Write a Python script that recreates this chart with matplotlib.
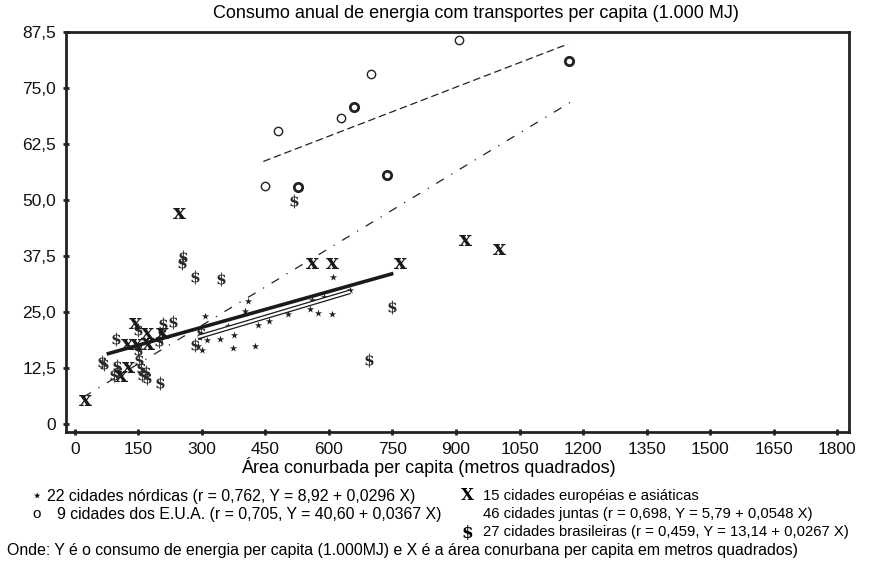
import matplotlib.pyplot as plt

plt.rcParams["font.family"] = ["Liberation Sans", "DejaVu Sans"]
plt.rcParams["mathtext.fontset"] = "dejavuserif"

# nordic cities (stars)
nord_x = [609, 409, 402, 307, 561, 588, 650, 362, 433, 459, 504, 555, 575, 608,
          376, 343, 373, 425, 299, 311, 299, 290]
nord_y = [32.7, 27.4, 25.3, 24.1, 27.7, 28.3, 29.9, 21.9, 22.1, 23.0, 24.6, 25.6,
          24.8, 24.6, 19.9, 18.9, 17.0, 17.3, 16.5, 18.8, 19.9, 17.5]

# US cities (circles), some drawn bolder
usa_x = [908, 1166, 699, 658, 628, 479, 450, 527, 738]
usa_y = [85.6, 81.0, 78.1, 70.7, 68.2, 65.4, 53.1, 52.9, 55.6]
usa_bold = [False, True, False, True, False, False, False, True, True]

# european and asian cities (x)
eur_x = [25, 246, 561, 606, 768, 921, 1002, 142, 171, 205, 122, 144, 173, 126, 110]
eur_y = [5.4, 47.0, 35.9, 35.9, 36.0, 41.1, 39.0, 22.5, 20.2, 20.2, 17.9, 17.9,
         17.9, 12.7, 10.6]

# brazilian cities ($)
bra_x = [256, 252, 283, 344, 232, 207, 96, 199, 150, 152, 155, 158, 167, 65, 68,
         100, 101, 201, 283, 298, 517, 748, 695, 148, 205, 92, 170]
bra_y = [37.2, 35.9, 32.9, 32.3, 22.7, 22.3, 19.0, 18.5, 16.5, 14.3, 12.4, 10.9,
         11.5, 13.9, 13.3, 12.9, 11.5, 9.1, 17.6, 20.4, 49.8, 26.0, 14.3, 21.0,
         20.0, 11.0, 10.3]

# regression line end points as drawn
all_line_x = [20, 1170]
all_line_y = [6.0, 71.8]
usa_line_x = [445, 1164]
usa_line_y = [58.6, 84.8]
eur_line_x = [75, 752]
eur_line_y = [15.6, 33.6]
nord_line_x = [291, 650]
nord_line_y = [19.4, 29.5]

xticks = list(range(0, 1801, 150))
yticks = [0, 12.5, 25.0, 37.5, 50.0, 62.5, 75.0, 87.5]
ytick_labels = ["0", "12,5", "25,0", "37,5", "50,0", "62,5", "75,0", "87,5"]

fig = plt.figure(figsize=(8.72, 5.65), dpi=100)
ax = fig.add_axes([0.0757, 0.2354, 0.8979, 0.708])

ax.plot(all_line_x, all_line_y, color="#222222", lw=0.9, dashes=(7, 7, 1, 7))
ax.plot(usa_line_x, usa_line_y, color="#222222", lw=0.9, dashes=(6, 3))
ax.plot(eur_line_x, eur_line_y, color="#1a1a1a", lw=2.6, solid_capstyle="butt")
ax.plot(nord_line_x, nord_line_y, color="#1a1a1a", lw=3.4, solid_capstyle="butt")
ax.plot(nord_line_x, nord_line_y, color="white", lw=1.6, solid_capstyle="butt")

ax.scatter(nord_x, nord_y, marker="*", s=30, color="#222222", linewidths=0)
for x, y, b in zip(usa_x, usa_y, usa_bold):
    ax.scatter(x, y, marker="o", s=36, facecolors="white", edgecolors="#222222",
               linewidths=2.0 if b else 1.0)
ax.scatter(bra_x, bra_y, marker=r"$\mathbf{\$}$", s=100, color="#2a2a2a", linewidths=0)
ax.scatter(eur_x, eur_y, marker=r"$\mathbf{x}$", s=85, color="#1a1a1a", linewidths=0)
ax.scatter([295], [19.2], marker="s", s=10, color="#3030a0", linewidths=0)

ax.set_xlim(-21, 1828)
ax.set_ylim(-1.8, 87.5)
ax.set_xticks(xticks)
ax.set_xticklabels([str(t) for t in xticks])
ax.set_yticks(yticks)
ax.set_yticklabels(ytick_labels)
ax.tick_params(direction="inout", length=4, width=2, labelsize=12.5, color="#222222",
               labelcolor="#111111", pad=5)
for s in ax.spines.values():
    s.set_linewidth(2.0)
    s.set_color("#222222")

fig.text(428 / 872, 1 - 467 / 565, "Área conurbada per capita (metros quadrados)",
         ha="center", va="center", fontsize=13)
fig.text(476 / 872, 1 - 14 / 565,
         "Consumo anual de energia com transportes per capita (1.000 MJ)",
         ha="center", va="center", fontsize=13)

fs = 11.4
fs_r = 10.7
fig.text(37 / 872, 1 - 497 / 565, "\u22c6", ha="center", va="center", fontsize=12,
         family="DejaVu Sans")
fig.text(47 / 872, 1 - 496 / 565,
         "22 cidades nórdicas (r = 0,762, Y = 8,92 + 0,0296 X)",
         va="center", fontsize=fs)
fig.text(37 / 872, 1 - 514 / 565, "o", ha="center", va="center", fontsize=11)
fig.text(57 / 872, 1 - 514 / 565,
         "9 cidades dos E.U.A. (r = 0,705, Y = 40,60 + 0,0367 X)",
         va="center", fontsize=fs)
fig.text(467 / 872, 1 - 496 / 565, "X", ha="center", va="center", fontsize=12,
         family="DejaVu Serif", weight="bold")
fig.text(483 / 872, 1 - 496 / 565, "15 cidades européias e asiáticas",
         va="center", fontsize=fs_r)
fig.text(483 / 872, 1 - 514 / 565,
         "46 cidades juntas (r = 0,698, Y = 5,79 + 0,0548 X)",
         va="center", fontsize=fs_r)
fig.text(467 / 872, 1 - 533 / 565, "$", ha="center", va="center", fontsize=12,
         family="DejaVu Serif", weight="bold")
fig.text(483 / 872, 1 - 532 / 565,
         "27 cidades brasileiras (r = 0,459, Y = 13,14 + 0,0267 X)",
         va="center", fontsize=fs_r)
fig.text(7 / 872, 1 - 551 / 565,
         "Onde: Y é o consumo de energia per capita (1.000MJ) e X é a área conurbana "
         "per capita em metros quadrados)",
         va="center", fontsize=fs)

fig.savefig("out.png", dpi=100)
